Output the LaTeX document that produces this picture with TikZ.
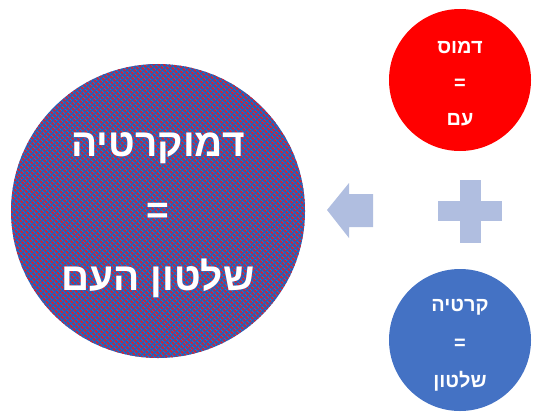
\documentclass[tikz,border=0pt]{standalone}
\usepackage{fontspec}
\newfontfamily\hebfont[Script=Hebrew]{Liberation Sans}
\TeXXeTstate=1
\usetikzlibrary{patterns.meta}

\definecolor{stripeblue}{RGB}{30,98,190}
\definecolor{stripered}{RGB}{222,28,44}
\definecolor{demosred}{RGB}{255,0,0}
\definecolor{kratiablue}{RGB}{68,114,196}
\definecolor{signblue}{RGB}{176,190,224}

% one line of Hebrew, right to left
\newcommand{\heb}[1]{\beginR #1\endR}

\begin{document}
\begin{tikzpicture}[
    x=1bp, y=1bp,
    every node/.style={text=white, align=center},
    word/.style={circle, inner sep=0pt},
    bigtext/.style={font=\hebfont\bfseries\fontsize{39}{67}\selectfont},
    smalltext/.style={font=\hebfont\bfseries\fontsize{20}{36}\selectfont},
    sign/.style={fill=signblue}
]
   \useasboundingbox (0,0) rectangle (533,411);

   % Circles
   \node[word, minimum size=294bp, preaction={fill=stripeblue},
         pattern={Lines[angle=-45, distance=3.6bp, line width=2bp]},
         pattern color=stripered] (demokratia) at (158,200) {};
   \node[word, minimum size=142bp, fill=demosred] (demos) at (460,331) {};
   \node[word, minimum size=142bp, fill=kratiablue] (kratia) at (460,71) {};

   % Texts
   \node[bigtext] (demokratia-text) at ([yshift=-4bp]demokratia)
        {\heb{דמוקרטיה}\\=\\\heb{שלטון העם}};
   \node[smalltext] (demos-text) at ([yshift=-4bp]demos) {\heb{דמוס}\\=\\\heb{עם}};
   \node[smalltext, font=\hebfont\bfseries\fontsize{20}{38}\selectfont] (kratia-text)
        at ([yshift=-5bp]kratia) {\heb{קרטיה}\\=\\\heb{שלטון}};

   % Signs
   \coordinate (tip) at (327,201);
   \coordinate (plus) at (470,200);
   \fill[sign] (tip) -- ++(22,27) -- ++(0,-11) -- ++(24,0) -- ++(0,-33)
        -- ++(-24,0) -- ++(0,-11) -- cycle;
   \fill[sign] ([xshift=-10.5bp, yshift=-31.5bp]plus) rectangle ([xshift=10.5bp, yshift=31.5bp]plus);
   \fill[sign] ([xshift=-32bp, yshift=-10bp]plus) rectangle ([xshift=32bp, yshift=10bp]plus);
\end{tikzpicture}
\end{document}
